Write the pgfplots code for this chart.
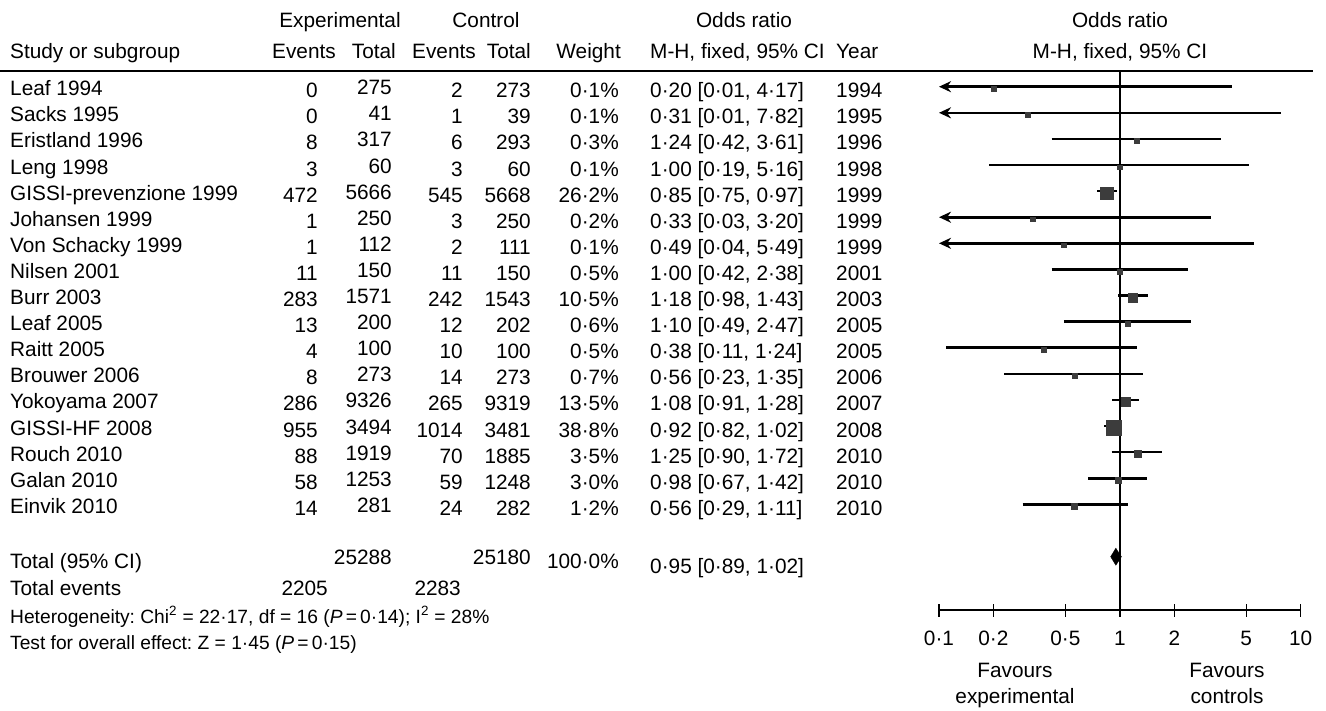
\documentclass[border=0pt]{standalone}
\usepackage{pgfplots}
\pgfplotsset{compat=1.18}
\usepackage{pgfplotstable}
\usepackage{fontspec}
\setmainfont{Liberation Sans}
\usetikzlibrary{arrows.meta}
\definecolor{sq}{RGB}{60,60,60}
\newcommand{\fs}{\fontsize{20.8}{24}\selectfont}
\newcommand{\fsb}{\fontsize{19.2}{24}\selectfont}
\frenchspacing

% point estimates: OR, y (negative pixel row), half side of square
\pgfplotstableread{
or    y       s
0.20  -88.7   2.3
0.31  -114.8  2.3
1.24  -140.9  2.6
1.00  -167.0  2.3
0.85  -193.1  6.4
0.33  -219.2  2.3
0.49  -245.3  2.3
1.00  -271.4  2.5
1.18  -297.5  4.4
1.10  -323.6  2.5
0.38  -349.7  2.5
0.56  -375.8  2.6
1.08  -401.9  4.7
0.92  -428.0  7.4
1.25  -454.1  3.5
0.98  -480.2  3.1
0.56  -506.3  2.9
}\pointest

\begin{document}
\begin{tikzpicture}
\useasboundingbox (0pt,0pt) rectangle (1326pt,-710pt);
\begin{scope}[x=1pt,y=-1pt,every node/.style={font=\fs,inner sep=0pt}]
% header
\node[anchor=base] at (340,27) {Experimental};
\node[anchor=base] at (486,27) {Control};
\node[anchor=base] at (744,27) {Odds ratio};
\node[anchor=base] at (1120,27) {Odds ratio};
\node[anchor=base west] at (10,58) {Study or subgroup};
\node[anchor=base east] at (336,58) {Events};
\node[anchor=base east] at (396,58) {Total};
\node[anchor=base east] at (476,58) {Events};
\node[anchor=base east] at (531,58) {Total};
\node[anchor=base east] at (621,58) {Weight};
\node[anchor=base west] at (650,58) {M-H, fixed, 95\% CI};
\node[anchor=base west] at (836,58) {Year};
\node[anchor=base] at (1120,58) {M-H, fixed, 95\% CI};
\draw[line width=1.3pt] (0,71) -- (1313,71);
% rows
\foreach \i/\name/\ee/\et/\ce/\ct/\w/\orr/\yr in {
0/Leaf 1994/0/275/2/273/0·1\%/{0·20 [0·01, 4·17]}/1994,
1/Sacks 1995/0/41/1/39/0·1\%/{0·31 [0·01, 7·82]}/1995,
2/Eristland 1996/8/317/6/293/0·3\%/{1·24 [0·42, 3·61]}/1996,
3/Leng 1998/3/60/3/60/0·1\%/{1·00 [0·19, 5·16]}/1998,
4/GISSI-prevenzione 1999/472/5666/545/5668/26·2\%/{0·85 [0·75, 0·97]}/1999,
5/Johansen 1999/1/250/3/250/0·2\%/{0·33 [0·03, 3·20]}/1999,
6/Von Schacky 1999/1/112/2/111/0·1\%/{0·49 [0·04, 5·49]}/1999,
7/Nilsen 2001/11/150/11/150/0·5\%/{1·00 [0·42, 2·38]}/2001,
8/Burr 2003/283/1571/242/1543/10·5\%/{1·18 [0·98, 1·43]}/2003,
9/Leaf 2005/13/200/12/202/0·6\%/{1·10 [0·49, 2·47]}/2005,
10/Raitt 2005/4/100/10/100/0·5\%/{0·38 [0·11, 1·24]}/2005,
11/Brouwer 2006/8/273/14/273/0·7\%/{0·56 [0·23, 1·35]}/2006,
12/Yokoyama 2007/286/9326/265/9319/13·5\%/{1·08 [0·91, 1·28]}/2007,
13/GISSI-HF 2008/955/3494/1014/3481/38·8\%/{0·92 [0·82, 1·02]}/2008,
14/Rouch 2010/88/1919/70/1885/3·5\%/{1·25 [0·90, 1·72]}/2010,
15/Galan 2010/58/1253/59/1248/3·0\%/{0·98 [0·67, 1·42]}/2010,
16/Einvik 2010/14/281/24/282/1·2\%/{0·56 [0·29, 1·11]}/2010}{
  \pgfmathsetmacro\yy{86.7+26.1*\i}
  \node[anchor=base west] at (10,\yy+9) {\name};
  \node[anchor=base east] at (318,\yy+11) {\ee};
  \node[anchor=base east] at (392,\yy+8) {\et};
  \node[anchor=base east] at (463,\yy+11) {\ce};
  \node[anchor=base east] at (531,\yy+11) {\ct};
  \node[anchor=base east] at (619,\yy+11) {\w};
  \node[anchor=base west] at (650,\yy+11) {\orr};
  \node[anchor=base west] at (836,\yy+11) {\yr};
}
% summary
\node[anchor=base west] at (10,568) {Total (95\% CI)};
\node[anchor=base east] at (392,564) {25288};
\node[anchor=base east] at (531,564) {25180};
\node[anchor=base east] at (619,568) {100·0\%};
\node[anchor=base west] at (650,573) {0·95 [0·89, 1·02]};
\node[anchor=base west] at (10,595) {Total events};
\node[anchor=base east] at (328,595) {2205};
\node[anchor=base east] at (461,595) {2283};
\node[anchor=base west,font=\fsb] at (10,623) {Heterogeneity: Chi\textsuperscript{2} = 22·17, df = 16 (\textit{P}\,=\,0·14); I\textsuperscript{2} = 28\%};
\node[anchor=base west,font=\fsb] at (10,649) {Test for overall effect: Z = 1·45 (\textit{P}\,=\,0·15)};
\node[anchor=base] at (1015,677) {Favours};
\node[anchor=base] at (1015,703) {experimental};
\node[anchor=base] at (1227,677) {Favours};
\node[anchor=base] at (1227,703) {controls};
\end{scope}
\begin{axis}[
  at={(939pt,-610pt)}, anchor=south west,
  scale only axis, width=361.7pt, height=539pt,
  xmode=log, xmin=0.1, xmax=10, ymin=-610, ymax=-71,
  clip=false,
  axis x line*=bottom, axis y line=none,
  x axis line style={line width=1.3pt,-},
  xtick={0.1,0.2,0.5,1,2,5,10},
  xticklabels={0·1,0·2,0·5,1,2,5,10},
  minor xtick={},
  tick align=center, major tick length=13pt,
  major tick style={line width=1.3pt,black},
  xticklabel style={font=\fs,anchor=north,inner sep=0pt,yshift=-14pt},
]
% line of no effect
\addplot[black,line width=1.4pt] coordinates {(1,-71) (1,-610)};
% confidence intervals
\addplot[black,line width=2.6pt,unbounded coords=jump] coordinates {
(0.42,-138.9) (3.61,-138.9) (nan,nan)
(0.19,-165.0) (5.16,-165.0) (nan,nan)
(0.75,-191.1) (0.97,-191.1) (nan,nan)
(0.42,-269.4) (2.38,-269.4) (nan,nan)
(0.98,-295.5) (1.43,-295.5) (nan,nan)
(0.49,-321.6) (2.47,-321.6) (nan,nan)
(0.11,-347.7) (1.24,-347.7) (nan,nan)
(0.23,-373.8) (1.35,-373.8) (nan,nan)
(0.91,-399.9) (1.28,-399.9) (nan,nan)
(0.82,-426.0) (1.02,-426.0) (nan,nan)
(0.90,-452.1) (1.72,-452.1) (nan,nan)
(0.67,-478.2) (1.42,-478.2) (nan,nan)
(0.29,-504.3) (1.11,-504.3)
};
% intervals running below 0.1
\addplot[black,line width=2.6pt,{Stealth[length=12pt,width=11pt]}-] coordinates {(0.1,-86.7) (4.17,-86.7)};
\addplot[black,line width=2.6pt,{Stealth[length=12pt,width=11pt]}-] coordinates {(0.1,-112.8) (7.82,-112.8)};
\addplot[black,line width=2.6pt,{Stealth[length=12pt,width=11pt]}-] coordinates {(0.1,-217.2) (3.20,-217.2)};
\addplot[black,line width=2.6pt,{Stealth[length=12pt,width=11pt]}-] coordinates {(0.1,-243.3) (5.49,-243.3)};
% study estimates
\addplot[only marks,mark=square*,draw=none,
  scatter,scatter/use mapped color={draw=sq,fill=sq},
  visualization depends on={\thisrow{s}\as\msize},
  scatter/@pre marker code/.append style={/tikz/mark size=\msize}]
  table[x=or,y=y] {\pointest};
% pooled estimate
\addplot[fill=black,draw=black,line width=0.4pt] coordinates {(0.89,-556.7) (0.95,-548.2) (1.02,-556.7) (0.95,-565.2) (0.89,-556.7)} -- cycle;
\end{axis}
\end{tikzpicture}
\end{document}
